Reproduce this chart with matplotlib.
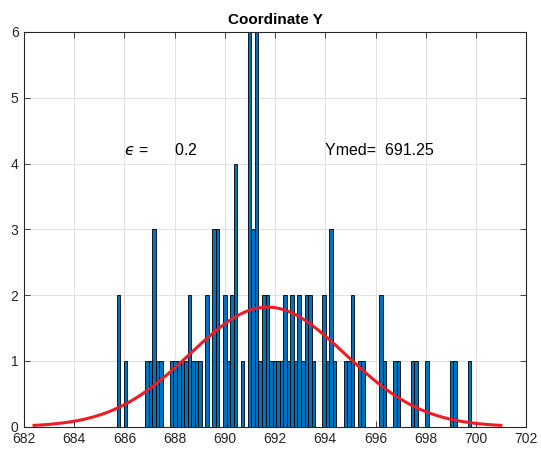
import numpy as np
import matplotlib
matplotlib.use("Agg")
import matplotlib.pyplot as plt

plt.rcParams['font.family'] = ['Liberation Sans', 'DejaVu Sans']
plt.rcParams['mathtext.fontset'] = 'dejavusans'

# Histogram of the Y coordinate: 100 equal bins between the sample extremes
y_min = 685.69
y_max = 699.81
counts = [
    2, 0, 1, 0, 0, 0, 0, 0, 1, 1,
    3, 1, 1, 0, 0, 1, 1, 1, 1, 1,
    2, 1, 1, 1, 0, 2, 0, 3, 3, 0,
    2, 1, 2, 4, 0, 1, 0, 6, 3, 6,
    1, 2, 2, 1, 1, 1, 1, 2, 1, 2,
    1, 2, 1, 2, 2, 1, 0, 0, 2, 1,
    3, 1, 0, 0, 1, 1, 2, 0, 1, 1,
    0, 0, 0, 0, 2, 1, 0, 0, 1, 1,
    0, 0, 0, 1, 1, 0, 0, 1, 0, 0,
    0, 0, 0, 0, 1, 1, 0, 0, 0, 1,
]
epsilon = 0.2
y_med = 691.25
x_ticks = list(range(682, 703, 2))
y_ticks = list(range(0, 7))
title = "Coordinate Y"

counts = np.asarray(counts, dtype=float)
n_bins = len(counts)
bin_w = (y_max - y_min) / n_bins
centers = y_min + bin_w * (np.arange(n_bins) + 0.5)

# Normal fit from the binned sample, scaled to the histogram area
n_total = counts.sum()
mu = np.sum(counts * centers) / n_total
sigma = np.sqrt(np.sum(counts * (centers - mu) ** 2) / (n_total - 1))
xs = np.linspace(mu - 3 * sigma, mu + 3 * sigma, 200)
pdf = n_total * bin_w * np.exp(-0.5 * ((xs - mu) / sigma) ** 2) / (sigma * np.sqrt(2 * np.pi))

fig = plt.figure(figsize=(5.41, 4.57), dpi=100)
ax = fig.add_axes([0.0445, 0.0663, 0.928, 0.8637])

ax.bar(centers, counts, width=bin_w, color='#0072BD', edgecolor='black',
       linewidth=0.6, zorder=2)
ax.plot(xs, pdf, color='#EE1C25', linewidth=2.2, zorder=3)

ax.set_xlim(682, 702)
ax.set_ylim(0, 6)
ax.set_xticks(x_ticks)
ax.set_yticks(y_ticks)

dark = '#262626'
ax.grid(True, color='#dcdcdc', linewidth=0.6)
ax.set_axisbelow(True)
ax.tick_params(direction='in', top=True, right=True, length=4, width=0.6,
               colors=dark, labelsize=10, pad=4)
for s in ax.spines.values():
    s.set_color(dark)
    s.set_linewidth(0.8)

ax.set_title(title, fontsize=11, fontweight='bold', color='black', pad=6)

ax.text(686, 4.2, r'$ϵ$ =      ' + f'{epsilon:g}', va='center', ha='left',
        fontsize=11.5, color='black')
ax.text(694, 4.2, f'Ymed=  {y_med:.2f}', va='center', ha='left',
        fontsize=11.5, color='black')

fig.savefig('out.png', dpi=100)
